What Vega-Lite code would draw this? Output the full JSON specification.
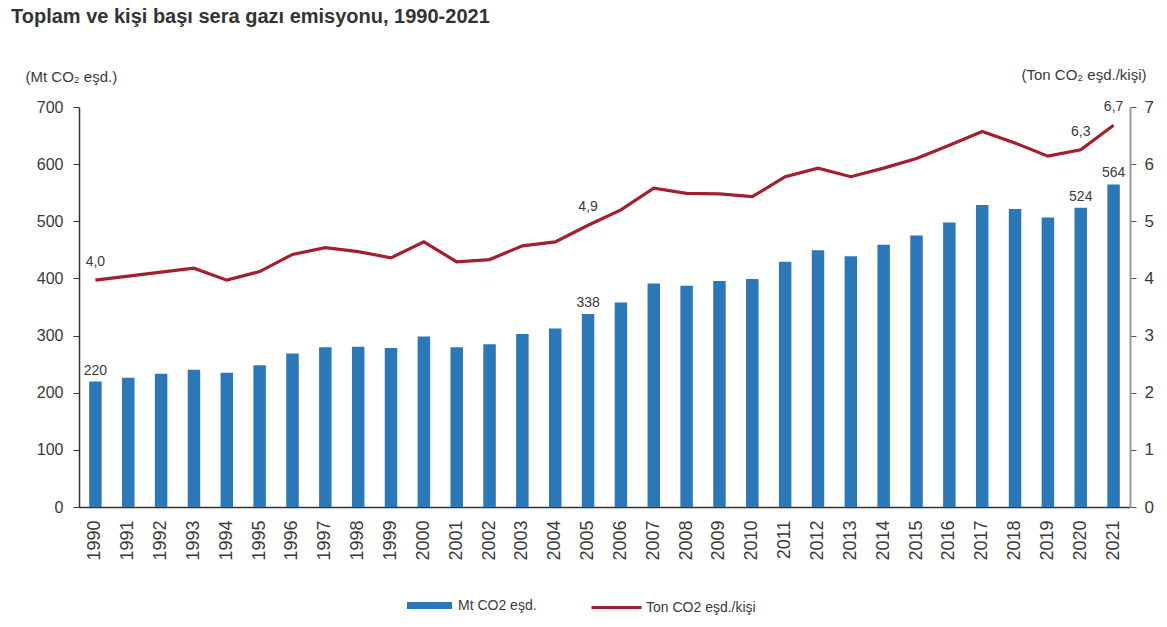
{
  "$schema": "https://vega.github.io/schema/vega-lite/v6.json",
  "autosize": {"type": "none"},
  "width": 1051,
  "height": 400,
  "padding": {"left": 79, "top": 107, "right": 37, "bottom": 120},
  "background": "white",
  "config": {
    "font": "Liberation Sans",
    "view": {"stroke": null},
    "axis": {"labelColor": "#3a3a3a", "titleColor": "#3a3a3a", "labelFont": "Liberation Sans", "titleFont": "Liberation Sans", "grid": false},
    "legend": {"labelFont": "Liberation Sans", "labelColor": "#3a3a3a", "labelFontSize": 14, "padding": 0}
  },
  "title": {
    "text": "Toplam ve kişi başı sera gazı emisyonu, 1990-2021",
    "anchor": "start",
    "frame": "group",
    "dx": -68,
    "offset": 40,
    "fontSize": 20,
    "fontWeight": "bold",
    "color": "#333333",
    "font": "Liberation Sans"
  },
  "data": {
    "values": [
      {"year": "1990", "mt": 219.6, "pc": 3.97, "barLabel": "220", "pcLabel": "4,0"},
      {"year": "1991", "mt": 226.0, "pc": 4.04, "barLabel": "", "pcLabel": ""},
      {"year": "1992", "mt": 233.1, "pc": 4.11, "barLabel": "", "pcLabel": ""},
      {"year": "1993", "mt": 240.2, "pc": 4.18, "barLabel": "", "pcLabel": ""},
      {"year": "1994", "mt": 235.0, "pc": 3.97, "barLabel": "", "pcLabel": ""},
      {"year": "1995", "mt": 248.2, "pc": 4.12, "barLabel": "", "pcLabel": ""},
      {"year": "1996", "mt": 268.7, "pc": 4.42, "barLabel": "", "pcLabel": ""},
      {"year": "1997", "mt": 279.4, "pc": 4.54, "barLabel": "", "pcLabel": ""},
      {"year": "1998", "mt": 280.5, "pc": 4.47, "barLabel": "", "pcLabel": ""},
      {"year": "1999", "mt": 278.3, "pc": 4.36, "barLabel": "", "pcLabel": ""},
      {"year": "2000", "mt": 298.2, "pc": 4.64, "barLabel": "", "pcLabel": ""},
      {"year": "2001", "mt": 279.6, "pc": 4.29, "barLabel": "", "pcLabel": ""},
      {"year": "2002", "mt": 285.0, "pc": 4.33, "barLabel": "", "pcLabel": ""},
      {"year": "2003", "mt": 302.6, "pc": 4.57, "barLabel": "", "pcLabel": ""},
      {"year": "2004", "mt": 312.4, "pc": 4.64, "barLabel": "", "pcLabel": ""},
      {"year": "2005", "mt": 337.8, "pc": 4.93, "barLabel": "338", "pcLabel": "4,9"},
      {"year": "2006", "mt": 358.0, "pc": 5.2, "barLabel": "", "pcLabel": ""},
      {"year": "2007", "mt": 391.3, "pc": 5.58, "barLabel": "", "pcLabel": ""},
      {"year": "2008", "mt": 387.4, "pc": 5.49, "barLabel": "", "pcLabel": ""},
      {"year": "2009", "mt": 395.3, "pc": 5.48, "barLabel": "", "pcLabel": ""},
      {"year": "2010", "mt": 398.8, "pc": 5.43, "barLabel": "", "pcLabel": ""},
      {"year": "2011", "mt": 429.0, "pc": 5.78, "barLabel": "", "pcLabel": ""},
      {"year": "2012", "mt": 449.5, "pc": 5.93, "barLabel": "", "pcLabel": ""},
      {"year": "2013", "mt": 438.9, "pc": 5.78, "barLabel": "", "pcLabel": ""},
      {"year": "2014", "mt": 459.1, "pc": 5.93, "barLabel": "", "pcLabel": ""},
      {"year": "2015", "mt": 475.1, "pc": 6.1, "barLabel": "", "pcLabel": ""},
      {"year": "2016", "mt": 498.0, "pc": 6.33, "barLabel": "", "pcLabel": ""},
      {"year": "2017", "mt": 528.3, "pc": 6.57, "barLabel": "", "pcLabel": ""},
      {"year": "2018", "mt": 521.6, "pc": 6.37, "barLabel": "", "pcLabel": ""},
      {"year": "2019", "mt": 506.8, "pc": 6.14, "barLabel": "", "pcLabel": ""},
      {"year": "2020", "mt": 523.9, "pc": 6.25, "barLabel": "524", "pcLabel": "6,3"},
      {"year": "2021", "mt": 564.4, "pc": 6.68, "barLabel": "564", "pcLabel": "6,7"}
    ]
  },
  "encoding": {
    "x": {
      "field": "year",
      "type": "ordinal",
      "scale": {"paddingInner": 0.62, "paddingOuter": 0.31},
      "axis": {
        "title": null,
        "labelAngle": -90,
        "labelFontSize": 18,
        "labelPadding": 13,
        "ticks": false,
        "domainColor": "#333333",
        "domainWidth": 1.5
      }
    }
  },
  "layer": [
    {
      "layer": [
        {
          "mark": {"type": "bar"},
          "encoding": {
            "y": {
              "field": "mt",
              "type": "quantitative",
              "scale": {"domain": [0, 700], "nice": false},
              "axis": {
                "values": [0, 100, 200, 300, 400, 500, 600, 700],
                "format": "d",
                "title": "(Mt CO₂ eşd.)",
                "titleAngle": 0,
                "titleAlign": "left",
                "titleBaseline": "middle",
                "titleX": -54,
                "titleY": -31,
                "titleFontSize": 15,
                "titleFontWeight": "normal",
                "labelFontSize": 16,
                "labelPadding": 10,
                "tickSize": 6,
                "domainColor": "#333333",
                "tickColor": "#333333",
                "domainWidth": 1.5
              }
            },
            "fill": {
              "datum": "Mt CO2 eşd.",
              "scale": {"range": ["#2b77b8"]},
              "legend": {
                "orient": "none",
                "legendX": 328,
                "legendY": 476,
                "title": null,
                "symbolType": "M-1,-0.156H1V0.156H-1Z",
                "symbolSize": 2025,
                "symbolStrokeWidth": 0,
                "labelOffset": 6
              }
            }
          }
        },
        {
          "mark": {"type": "text", "baseline": "bottom", "dy": -4, "fontSize": 14, "color": "#3a3a3a"},
          "encoding": {
            "y": {"field": "mt", "type": "quantitative"},
            "text": {"field": "barLabel"}
          }
        }
      ]
    },
    {
      "layer": [
        {
          "mark": {"type": "line", "strokeWidth": 3.2},
          "encoding": {
            "y": {
              "field": "pc",
              "type": "quantitative",
              "scale": {"domain": [0, 7], "nice": false},
              "axis": {
                "orient": "right",
                "values": [0, 1, 2, 3, 4, 5, 6, 7],
                "format": "d",
                "title": "(Ton CO₂ eşd./kişi)",
                "titleAngle": 0,
                "titleAlign": "right",
                "titleBaseline": "middle",
                "titleX": 16,
                "titleY": -33,
                "titleFontSize": 15,
                "titleFontWeight": "normal",
                "labelFontSize": 17,
                "labelPadding": 8,
                "tickSize": 6,
                "domainColor": "#999999",
                "tickColor": "#555555",
                "domainWidth": 2
              }
            },
            "stroke": {
              "datum": "Ton CO2 eşd./kişi",
              "scale": {"range": ["#a31f2e"]},
              "legend": {
                "orient": "none",
                "legendX": 511,
                "legendY": 474,
                "title": null,
                "symbolType": "stroke",
                "symbolSize": 2500,
                "symbolStrokeWidth": 3,
                "labelOffset": 3
              }
            }
          }
        },
        {
          "mark": {"type": "text", "baseline": "bottom", "dy": -11, "fontSize": 14, "color": "#3a3a3a"},
          "encoding": {
            "y": {"field": "pc", "type": "quantitative"},
            "text": {"field": "pcLabel"}
          }
        }
      ]
    }
  ],
  "resolve": {"scale": {"y": "independent", "fill": "independent", "stroke": "independent"}}
}
